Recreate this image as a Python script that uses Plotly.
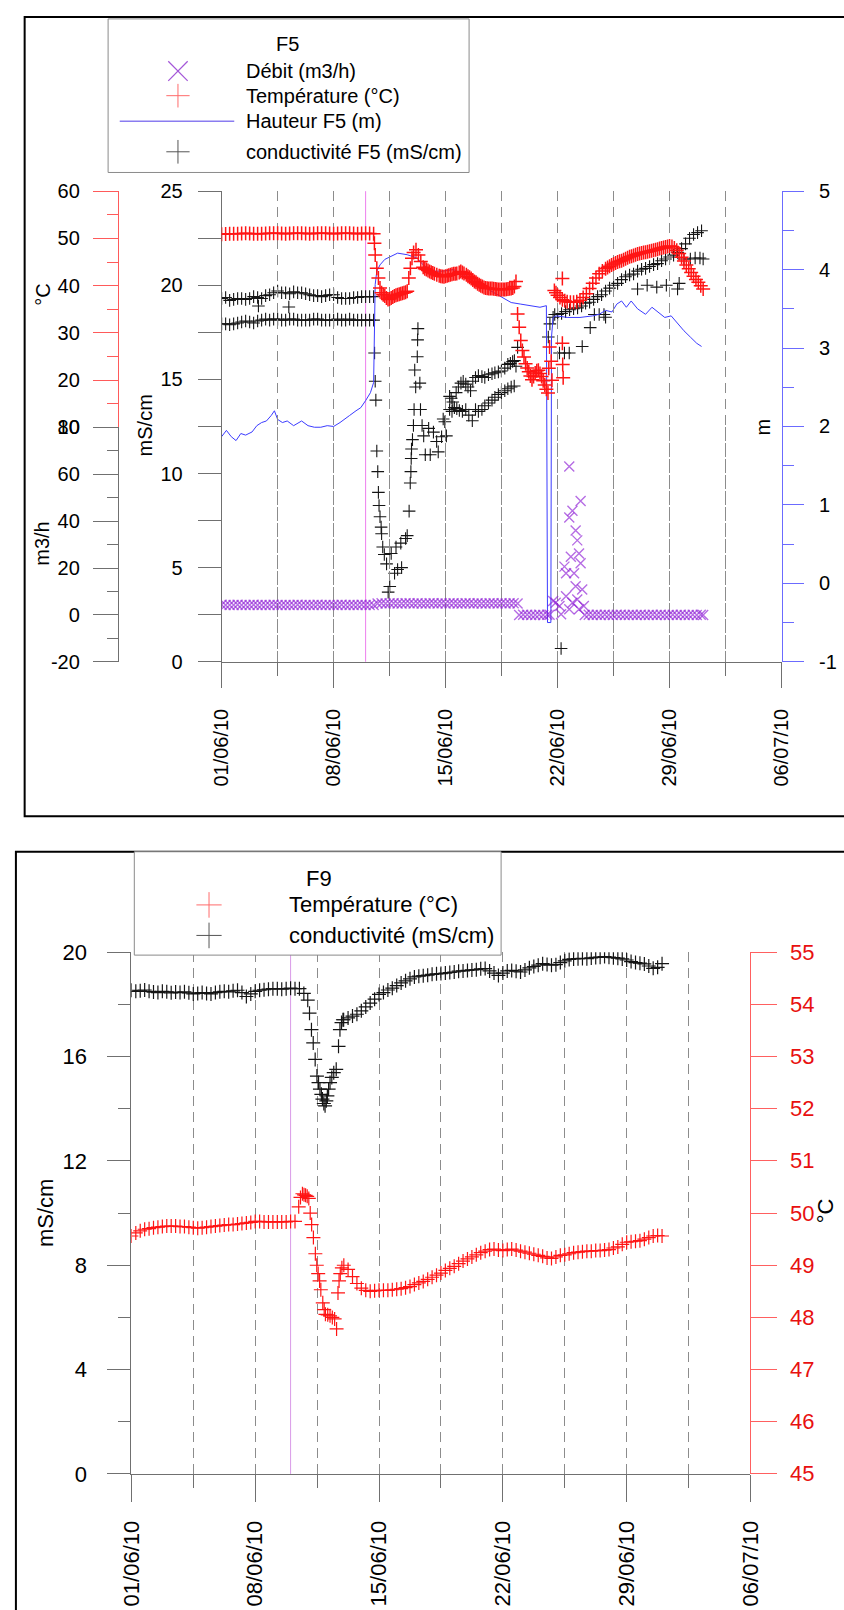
import pandas as pd
import plotly.graph_objects as go

W, H = 844, 1610
FONT = "Liberation Sans, Arial, sans-serif"
DAY_MS = 86400000
BASE = pd.Timestamp("2010-06-01")
X_START, X_END = "2010-06-01", "2010-07-06"
EVENT_DATE = "2010-06-10"

# ---------------- F5 data (t = days since 01/06/10) ----------------
f5_band_t = [0, 0.25, 0.5, 0.75, 1, 1.25, 1.5, 1.75, 2, 2.25, 2.5, 2.75, 3, 3.25, 3.5, 3.75, 4, 4.25, 4.5,
             4.75, 5, 5.25, 5.5, 5.75, 6, 6.25, 6.5, 6.75, 7, 7.25, 7.5, 7.75, 8, 8.25, 8.5, 8.75, 9, 9.25, 9.5]
f5_cond_hi = [19.3, 19.35, 19.2, 19.25, 19.3, 19.3, 19.25, 19.3, 19.4, 19.35, 19.3, 19.45, 19.5, 19.6, 19.7,
              19.6, 19.6, 19.55, 19.65, 19.6, 19.6, 19.55, 19.5, 19.45, 19.45, 19.4, 19.45, 19.5, 19.5, 19.35,
              19.3, 19.3, 19.3, 19.35, 19.35, 19.4, 19.4, 19.4, 19.4]
f5_cond_lo = [17.95, 17.95, 17.9, 17.95, 18.0, 18.05, 18.1, 18.05, 18.0, 18.1, 18.15, 18.2, 18.15, 18.2, 18.2,
              18.15, 18.15, 18.2, 18.2, 18.15, 18.15, 18.15, 18.15, 18.2, 18.2, 18.15, 18.15, 18.15, 18.15,
              18.2, 18.15, 18.15, 18.2, 18.15, 18.15, 18.15, 18.15, 18.15, 18.15]
f5_temp_flat = [50.9, 50.95, 51.0, 51.0, 51.0, 51.05, 51.1, 51.05, 51.0, 51.0, 51.0, 51.05, 51.1, 51.1, 51.1,
                51.05, 51.0, 51.05, 51.1, 51.1, 51.1, 51.05, 51.0, 51.05, 51.1, 51.1, 51.1, 51.05, 51.0,
                51.05, 51.1, 51.1, 51.1, 51.05, 51.0, 51.05, 51.1, 51.05, 51.0]
f5_debit_flat = [4.3, 4.2, 4.2, 4.25, 4.3, 4.2, 4.2, 4.25, 4.3, 4.2, 4.2, 4.2, 4.25, 4.3, 4.2, 4.2, 4.25, 4.2,
                 4.2, 4.3, 4.2, 4.2, 4.25, 4.2, 4.3, 4.2, 4.2, 4.25, 4.2, 4.2, 4.3, 4.2, 4.2, 4.25, 4.2, 4.3,
                 4.2, 4.2, 4.2]

f5_cond_scatter = [
    (2.3, 18.9), (4.2, 18.85),
    (9.56, 16.4), (9.6, 14.9), (9.64, 13.9), (9.7, 11.2), (9.76, 10.1), (9.8, 9.0), (9.84, 8.3),
    (9.9, 7.7), (9.97, 7.15), (10.0, 6.8), (10.07, 6.1), (10.17, 5.7), (10.31, 5.2), (10.41, 3.7),
    (10.51, 4.0), (10.6, 5.75), (10.81, 4.7), (10.9, 6.1), (11.0, 4.9), (11.2, 6.3), (11.25, 5.0),
    (11.5, 6.55), (11.6, 6.7), (11.72, 8.0), (11.79, 9.5), (11.83, 10.1), (11.85, 10.8), (11.87, 11.3),
    (11.93, 11.8), (11.99, 12.55), (12.03, 13.4), (12.07, 15.5), (12.13, 14.6), (12.23, 16.2),
    (12.25, 17.1), (12.27, 17.7), (12.39, 14.8), (12.43, 13.4), (12.53, 12.55), (12.63, 12.0),
    (12.73, 11.0), (12.94, 12.4), (13.04, 11.0), (13.24, 12.2), (13.44, 11.7), (13.54, 11.15),
    (13.75, 11.95), (13.85, 12.9), (13.95, 12.75), (14.05, 12.0),
    (14.25, 14.1), (14.35, 14.0), (14.45, 13.8), (14.66, 14.3), (14.8, 14.6), (14.96, 14.8), (15.1, 14.9),
    (15.26, 14.75), (15.4, 14.6), (15.56, 14.4), (15.7, 14.9), (15.87, 15.1), (16.05, 15.2), (16.27, 15.15),
    (16.45, 15.1), (16.68, 15.25), (16.9, 15.3), (17.08, 15.35), (17.3, 15.4), (17.49, 15.45),
    (17.7, 15.6), (17.89, 15.8), (18.05, 15.85), (18.19, 15.95), (18.3, 16.0), (18.4, 15.7),
    (14.25, 13.4), (14.4, 13.3), (14.55, 13.5), (14.7, 13.45), (14.86, 13.35), (15.05, 13.3),
    (15.26, 13.4), (15.45, 13.1), (15.67, 12.8), (15.87, 13.4), (16.05, 13.3), (16.27, 13.4),
    (16.45, 13.6), (16.68, 13.75), (16.9, 13.9), (17.08, 14.05), (17.3, 14.2), (17.49, 14.3),
    (17.7, 14.4), (17.89, 14.5), (18.1, 14.6), (18.29, 14.65),
    (18.5, 16.7), (20.42, 17.25), (20.52, 17.95), (20.72, 18.3), (20.82, 18.45), (21.22, 0.7),
    (21.12, 16.4), (21.43, 16.4), (21.73, 16.4), (22.54, 16.75), (23.04, 17.75), (23.3, 18.45),
    (23.6, 18.45), (23.9, 18.45), (24.0, 18.3), (26.0, 19.8), (26.6, 20.0), (27.2, 19.9), (27.8, 20.0),
    (28.5, 19.8), (28.6, 20.1), (28.9, 21.4), (29.3, 21.4), (29.6, 21.45), (29.9, 21.45), (30.1, 21.4),
]
f5_late_t = [21.0, 21.25, 21.5, 21.75, 22.0, 22.25, 22.5, 22.75, 23.0, 23.25, 23.5, 23.75, 24.0, 24.25, 24.5,
             24.75, 25.0, 25.25, 25.5, 25.75, 26.0, 26.25, 26.5, 26.75, 27.0, 27.25, 27.5, 27.75, 28.0, 28.25,
             28.5, 28.75, 29.0, 29.25, 29.5, 29.75, 30.0]
f5_cond_late = [18.45, 18.5, 18.6, 18.7, 18.75, 18.8, 18.9, 19.05, 19.1, 19.25, 19.4, 19.5, 19.7, 19.85, 20.0,
                20.1, 20.3, 20.45, 20.55, 20.6, 20.75, 20.85, 20.9, 21.0, 21.1, 21.15, 21.3, 21.4, 21.5, 21.6,
                21.75, 21.95, 22.2, 22.5, 22.7, 22.8, 22.9]

f5_temp_after = [
    (9.55, 49.0), (9.6, 46.5), (9.7, 43.7), (9.8, 41.6), (9.9, 39.5), (10.0, 38.5), (10.1, 38.1), (10.2, 37.8),
    (10.3, 37.4), (10.4, 37.1), (10.5, 37.2), (10.6, 37.4), (10.7, 37.6), (10.8, 37.8), (10.9, 38.0),
    (11.0, 38.1), (11.1, 38.2), (11.2, 38.3), (11.3, 38.4), (11.4, 38.5), (11.5, 38.6), (11.6, 38.8),
    (11.7, 41.6), (11.8, 43.7), (11.9, 45.8), (12.0, 47.0), (12.15, 47.6), (12.3, 46.5), (12.45, 45.1),
    (12.6, 43.9), (12.7, 43.6), (12.8, 43.4), (12.9, 43.2), (13.0, 43.0), (13.1, 42.85), (13.2, 42.7),
    (13.3, 42.5), (13.45, 42.3), (13.6, 42.1), (13.7, 42.0), (13.8, 41.95), (13.9, 41.9), (14.0, 42.0),
    (14.1, 42.1), (14.2, 42.2), (14.3, 42.3), (14.4, 42.4), (14.5, 42.5), (14.6, 42.55), (14.7, 42.6),
    (14.85, 42.8), (14.95, 43.0), (15.05, 42.8), (15.15, 42.6), (15.3, 42.3), (15.4, 42.0), (15.5, 41.8),
    (15.6, 41.5), (15.7, 41.2), (15.8, 40.9), (15.9, 40.7), (16.0, 40.4), (16.1, 40.2), (16.2, 40.0),
    (16.3, 39.8), (16.4, 39.6), (16.5, 39.5), (16.6, 39.45), (16.7, 39.4), (16.8, 39.4), (16.9, 39.4),
    (17.0, 39.35), (17.1, 39.3), (17.2, 39.25), (17.3, 39.2), (17.4, 39.2), (17.5, 39.2), (17.6, 39.2),
    (17.7, 39.2), (17.8, 39.25), (17.9, 39.3), (18.0, 39.35), (18.1, 39.4), (18.2, 39.5), (18.3, 39.8),
    (18.4, 40.9),
    (18.5, 34.0), (18.6, 31.2), (18.7, 28.4), (18.8, 26.3), (18.9, 24.9), (19.0, 23.5), (19.1, 22.6),
    (19.2, 21.8), (19.3, 20.9), (19.4, 20.1), (19.5, 20.8), (19.6, 21.5), (19.7, 22.0), (19.8, 22.1),
    (19.9, 21.4), (20.0, 20.8), (20.1, 19.9), (20.2, 19.0), (20.3, 18.1), (20.4, 17.3),
    (20.45, 22.5), (20.5, 27.0), (20.6, 24.0), (20.65, 20.0), (21.3, 27.8), (21.32, 23.3),
    (21.35, 20.5), (21.3, 41.5),
    (20.8, 39.0), (20.9, 38.5), (21.0, 38.0), (21.15, 37.5), (21.3, 37.0), (21.45, 36.8), (21.6, 36.6),
    (21.8, 36.5), (22.0, 36.5), (22.2, 36.6), (22.4, 36.9), (22.6, 37.5), (22.8, 38.3), (23.0, 39.4),
    (23.2, 40.5), (23.4, 41.6), (23.6, 42.5), (23.8, 43.1), (24.0, 43.6), (24.125, 43.85), (24.25, 44.1),
    (24.375, 44.35), (24.5, 44.6), (24.625, 44.8), (24.75, 45.0), (24.875, 45.15), (25.0, 45.3),
    (25.125, 45.5), (25.25, 45.7), (25.375, 45.9), (25.5, 46.1), (25.625, 46.25), (25.75, 46.4),
    (25.875, 46.55), (26.0, 46.7), (26.125, 46.8), (26.25, 46.9), (26.375, 47.0), (26.5, 47.1),
    (26.625, 47.2), (26.75, 47.3), (26.875, 47.4), (27.0, 47.5), (27.125, 47.6), (27.25, 47.7),
    (27.375, 47.85), (27.5, 48.0), (27.625, 48.1), (27.75, 48.2), (27.875, 48.3), (28.0, 48.4),
    (28.15, 48.3), (28.3, 48.0), (28.45, 47.5), (28.6, 46.8), (28.75, 46.0), (28.9, 45.2), (29.05, 44.4),
    (29.2, 43.6), (29.35, 42.8), (29.5, 42.0), (29.65, 41.3), (29.8, 40.7), (29.95, 40.0), (30.1, 39.3),
]

f5_height = [
    (0, 1.87), (0.3, 1.95), (0.6, 1.87), (0.9, 1.82), (1.2, 1.91), (1.5, 1.89), (1.9, 1.93), (2.2, 2.01),
    (2.5, 2.05), (2.8, 2.07), (3.1, 2.14), (3.3, 2.2), (3.5, 2.09), (3.8, 2.05), (4.1, 2.07), (4.5, 2.01),
    (5.0, 2.07), (5.4, 2.01), (5.8, 1.99), (6.2, 1.99), (6.6, 2.01), (7.0, 2.0), (7.4, 2.05), (7.7, 2.09),
    (8.0, 2.14), (8.4, 2.2), (8.7, 2.24), (9.0, 2.33), (9.3, 2.43), (9.5, 2.56), (9.56, 3.31), (9.6, 3.81),
    (9.7, 3.98), (9.9, 4.06), (10.2, 4.13), (10.6, 4.17), (11.0, 4.21), (11.6, 4.19), (12.2, 4.15),
    (12.6, 4.06), (13.2, 3.98), (13.8, 3.98), (14.5, 4.0), (15.1, 3.94), (15.7, 3.85), (16.3, 3.79),
    (16.9, 3.72), (17.5, 3.64), (18.1, 3.58), (18.7, 3.56), (19.3, 3.54), (19.9, 3.52), (20.3, 3.54),
    (20.37, -0.5), (20.58, -0.5), (20.62, 3.14), (20.72, 3.39), (20.92, 3.41), (21.6, 3.39), (22.4, 3.39),
    (23.2, 3.41), (23.6, 3.43), (24.0, 3.48), (24.4, 3.46), (24.7, 3.56), (25.0, 3.6), (25.3, 3.52),
    (25.6, 3.6), (26.0, 3.5), (26.5, 3.43), (26.9, 3.52), (27.3, 3.46), (27.7, 3.39), (28.1, 3.41),
    (28.5, 3.31), (28.9, 3.22), (29.3, 3.14), (29.7, 3.06), (30.0, 3.02),
]

f5_debit_mid_t = [9.75, 10, 10.25, 10.5, 10.75, 11, 11.25, 11.5, 11.75, 12, 12.25, 12.5, 12.75, 13, 13.25,
                  13.5, 13.75, 14, 14.25, 14.5, 14.75, 15, 15.25, 15.5, 15.75, 16, 16.25, 16.5, 16.75, 17,
                  17.25, 17.5, 17.75, 18, 18.25, 18.5]
f5_debit_mid = [4.9, 5.0, 4.9, 4.95, 5.0, 4.9, 4.9, 5.0, 4.95, 4.9, 5.0, 4.9, 4.9, 5.0, 4.95, 4.9, 5.0, 4.9,
                4.95, 5.0, 4.9, 4.9, 5.0, 4.95, 4.9, 5.0, 4.9, 4.9, 5.0, 4.95, 4.9, 5.0, 4.9, 4.95, 5.0, 4.9]
f5_debit_scatter = [
    (18.6, 0.0), (18.85, 0.05), (19.1, 0.1), (19.35, 0.0), (19.6, 0.0), (19.85, 0.05), (20.1, 0.0),
    (20.35, 0.1), (20.5, 0.1),
    (20.72, 5.9), (20.88, 5.2), (21.12, 3.8), (21.22, 0.3), (21.73, 63.3), (21.73, 41.6), (21.93, 44.4),
    (22.44, 48.6), (21.53, 17.8), (21.43, 20.6), (21.83, 24.8), (22.13, 36.0), (22.23, 31.8),
    (22.34, 26.2), (22.44, 22.0), (22.03, 17.8), (22.13, 12.2), (22.54, 10.8), (21.53, 8.0),
    (21.93, 5.2), (22.34, 2.4), (22.64, 3.8), (21.73, 2.4), (22.23, 6.6),
]
f5_debit_late_t = [22.7, 22.95, 23.2, 23.45, 23.7, 23.95, 24.2, 24.45, 24.7, 24.95, 25.2, 25.45, 25.7, 25.95,
                   26.2, 26.45, 26.7, 26.95, 27.2, 27.45, 27.7, 27.95, 28.2, 28.45, 28.7, 28.95, 29.2, 29.45,
                   29.7, 29.95, 30.1]
f5_debit_late = [0.0, 0.1, 0.0, 0.05, 0.0, 0.1, 0.0, 0.0, 0.05, 0.1, 0.0, 0.0, 0.05, 0.0, 0.1, 0.0, 0.0, 0.05,
                 0.0, 0.1, 0.0, 0.0, 0.05, 0.0, 0.1, 0.0, 0.0, 0.05, 0.0, 0.1, 0.0]

# ---------------- F9 data ----------------
f9_flat_t = [0, 0.25, 0.5, 0.75, 1, 1.25, 1.5, 1.75, 2, 2.25, 2.5, 2.75, 3, 3.25, 3.5, 3.75, 4, 4.25, 4.5,
             4.75, 5, 5.25, 5.5, 5.75, 6, 6.25, 6.5, 6.75, 7, 7.25, 7.5, 7.75, 8, 8.25, 8.5, 8.75, 9, 9.25]
f9_cond_flat = [18.54, 18.5, 18.52, 18.55, 18.5, 18.47, 18.45, 18.5, 18.48, 18.44, 18.47, 18.45, 18.48, 18.44,
                18.4, 18.42, 18.45, 18.42, 18.4, 18.45, 18.48, 18.5, 18.48, 18.52, 18.54, 18.45, 18.3, 18.4,
                18.5, 18.54, 18.56, 18.58, 18.6, 18.6, 18.58, 18.6, 18.62, 18.6]
f9_temp_flat = [49.56, 49.62, 49.66, 49.69, 49.7, 49.72, 49.73, 49.74, 49.75, 49.75, 49.75, 49.74, 49.74,
                49.73, 49.72, 49.71, 49.72, 49.73, 49.74, 49.75, 49.76, 49.77, 49.78, 49.78, 49.79, 49.8,
                49.81, 49.82, 49.84, 49.84, 49.83, 49.83, 49.83, 49.83, 49.83, 49.83, 49.84, 49.84]
f9_cond_event = [
    (9.5, 18.6), (9.75, 18.42), (9.97, 18.16), (10.07, 17.66), (10.18, 17.03), (10.28, 16.52), (10.39, 15.89),
    (10.49, 15.25), (10.58, 15.0), (10.66, 14.75), (10.74, 14.55), (10.8, 14.37), (10.88, 14.2), (10.95, 14.11),
    (11.02, 14.3), (11.08, 14.49), (11.15, 14.75), (11.23, 15.0), (11.33, 15.2), (11.44, 15.38), (11.58, 15.51),
    (11.71, 16.39), (11.79, 17.03), (11.88, 17.3), (11.96, 17.41),
]
f9_late_t = [12.0, 12.25, 12.5, 12.75, 13.0, 13.25, 13.5, 13.75, 14.0, 14.25, 14.5, 14.75, 15.0, 15.25, 15.5,
             15.75, 16.0, 16.25, 16.5, 16.75, 17.0, 17.25, 17.5, 17.75, 18.0, 18.25, 18.5, 18.75, 19.0, 19.25,
             19.5, 19.75, 20.0, 20.25, 20.5, 20.75, 21.0, 21.25, 21.5, 21.75, 22.0, 22.25, 22.5, 22.75, 23.0,
             23.25, 23.5, 23.75, 24.0, 24.25, 24.5, 24.75, 25.0, 25.25, 25.5, 25.75, 26.0, 26.25, 26.5, 26.75,
             27.0, 27.25, 27.5, 27.75, 28.0, 28.25, 28.5, 28.75, 29.0, 29.25, 29.5, 29.75, 30.0]
f9_cond_late = [17.41, 17.48, 17.55, 17.62, 17.75, 17.9, 18.05, 18.2, 18.38, 18.45, 18.55, 18.62, 18.72, 18.82,
                18.9, 18.98, 19.05, 19.08, 19.1, 19.12, 19.15, 19.17, 19.18, 19.2, 19.22, 19.24, 19.27, 19.28,
                19.3, 19.32, 19.33, 19.36, 19.37, 19.28, 19.2, 19.11, 19.2, 19.28, 19.3, 19.27, 19.24, 19.32,
                19.4, 19.45, 19.5, 19.56, 19.53, 19.5, 19.52, 19.6, 19.67, 19.72, 19.74, 19.75, 19.76, 19.75,
                19.78, 19.8, 19.81, 19.83, 19.81, 19.79, 19.77, 19.74, 19.7, 19.64, 19.6, 19.58, 19.55, 19.47,
                19.38, 19.42, 19.56]
f9_temp_event = [
    (9.46, 50.12), (9.56, 50.3), (9.67, 50.37), (9.76, 50.35), (9.85, 50.34), (9.94, 50.32), (10.03, 50.28),
    (10.11, 50.0), (10.19, 49.78), (10.29, 49.53), (10.4, 49.22), (10.48, 49.0), (10.56, 48.84), (10.64, 48.7),
    (10.71, 48.53), (10.82, 48.28), (10.9, 48.15), (10.97, 48.06), (11.1, 48.05), (11.23, 48.03),
    (11.36, 48.0), (11.49, 47.97), (11.6, 47.78), (11.68, 48.47), (11.74, 48.7), (11.81, 48.84),
    (11.9, 48.95), (12.01, 49.0),
]
f9_late2_t = [12.25, 12.5, 12.75, 13.0, 13.25, 13.5, 13.75, 14.0, 14.25, 14.5, 14.75, 15.0, 15.25, 15.5,
              15.75, 16.0, 16.25, 16.5, 16.75, 17.0, 17.25, 17.5, 17.75, 18.0, 18.25, 18.5, 18.75, 19.0, 19.25,
              19.5, 19.75, 20.0, 20.25, 20.5, 20.75, 21.0, 21.25, 21.5, 21.75, 22.0, 22.25, 22.5, 22.75, 23.0,
              23.25, 23.5, 23.75, 24.0, 24.25, 24.5, 24.75, 25.0, 25.25, 25.5, 25.75, 26.0, 26.25, 26.5,
              26.75, 27.0, 27.25, 27.5, 27.75, 28.0, 28.25, 28.5, 28.75, 29.0, 29.25, 29.5, 29.75, 30.0]
f9_temp_late = [48.92, 48.78, 48.65, 48.56, 48.52, 48.5, 48.51, 48.52, 48.52, 48.52, 48.53, 48.54, 48.55, 48.57,
                48.59, 48.63, 48.66, 48.69, 48.73, 48.77, 48.81, 48.85, 48.9, 48.94, 48.98, 49.03, 49.08,
                49.12, 49.16, 49.2, 49.24, 49.27, 49.3, 49.31, 49.29, 49.28, 49.3, 49.31, 49.29, 49.27, 49.25,
                49.23, 49.21, 49.19, 49.17, 49.14, 49.13, 49.16, 49.19, 49.2, 49.22, 49.24, 49.25, 49.26,
                49.27, 49.27, 49.28, 49.28, 49.29, 49.3, 49.33, 49.35, 49.4, 49.44, 49.45, 49.46, 49.47, 49.5,
                49.53, 49.56, 49.57, 49.56]

# tick labels drawn as text next to the right-hand axes
m_ticks = [-1, 0, 1, 2, 3, 4, 5]
m_labels = ["-1", "0", "1", "2", "3", "4", "5"]
f9_temp_ticks = [45, 46, 47, 48, 49, 50, 51, 52, 53, 54, 55]
flow_ticks = [-20, 0, 20, 40, 60, 80]
flow_labels = ["-20", "0", "20", "40", "60", "80"]


def fx(p):
    return p / W


def fy(p):
    return 1 - p / H


def to_dates(ts):
    return [BASE + pd.Timedelta(days=t) for t in ts]


def unzip(pairs):
    return [p[0] for p in pairs], [p[1] for p in pairs]


def cross(size, color, width):
    return dict(symbol="cross-thin-open", size=size, color=color, line=dict(width=width, color=color))


fig = go.Figure()

# ---- F5 conductivity (mS/cm) ----
cs_t, cs_v = unzip(f5_cond_scatter)
c_t = f5_band_t + f5_band_t + cs_t + f5_late_t
c_v = f5_cond_hi + f5_cond_lo + cs_v + f5_cond_late
fig.add_trace(go.Scatter(x=to_dates(c_t), y=c_v, mode="markers", xaxis="x", yaxis="y",
                         marker=cross(9, "#151515", 1.1), showlegend=False))

# ---- F5 height (m) ----
h_t, h_v = unzip(f5_height)
fig.add_trace(go.Scatter(x=to_dates(h_t), y=h_v, mode="lines", xaxis="x", yaxis="y4",
                         line=dict(color="#3b3bff", width=1), showlegend=False))

# ---- F5 temperature (°C) ----
ta_t, ta_v = unzip(f5_temp_after)
fig.add_trace(go.Scatter(x=to_dates(f5_band_t + ta_t), y=f5_temp_flat + ta_v, mode="markers",
                         xaxis="x", yaxis="y2", marker=cross(10, "#ff1414", 1.5), showlegend=False))

# ---- F5 flow (m3/h) ----
ds_t, ds_v = unzip(f5_debit_scatter)
fig.add_trace(go.Scatter(
    x=to_dates(f5_band_t + f5_debit_mid_t + ds_t + f5_debit_late_t),
    y=f5_debit_flat + f5_debit_mid + ds_v + f5_debit_late,
    mode="markers", xaxis="x", yaxis="y3",
    marker=dict(symbol="x-thin-open", size=10, color="#8f1fd6", opacity=0.65,
                line=dict(width=1.4, color="#8f1fd6")),
    showlegend=False))

# ---- F9 conductivity and temperature ----
ce_t, ce_v = unzip(f9_cond_event)
fig.add_trace(go.Scatter(x=to_dates(f9_flat_t + ce_t + f9_late_t), y=f9_cond_flat + ce_v + f9_cond_late,
                         mode="markers", xaxis="x2", yaxis="y5", marker=cross(10, "#151515", 1.2),
                         showlegend=False))
te_t, te_v = unzip(f9_temp_event)
fig.add_trace(go.Scatter(x=to_dates(f9_flat_t + te_t + f9_late2_t), y=f9_temp_flat + te_v + f9_temp_late,
                         mode="markers", xaxis="x2", yaxis="y6", marker=cross(10, "#ff1414", 1.2),
                         showlegend=False))

GRID = "#8c8c8c"
DASH = "10px,6px"
AX = "#707070"


def date_axis(domain, anchor, ticklen, fsize, standoff):
    return dict(
        type="date", domain=domain, anchor=anchor, range=[X_START, X_END],
        tick0=X_START, dtick=7 * DAY_MS, tickformat="%d/%m/%y", tickangle=-90,
        ticks="outside", ticklen=ticklen, tickcolor=AX, tickwidth=1,
        tickfont=dict(family=FONT, size=fsize, color="#000"), ticklabelstandoff=standoff,
        showline=True, linecolor=AX, linewidth=1, zeroline=False,
        showgrid=True, gridcolor=GRID, gridwidth=1, griddash=DASH,
        minor=dict(tick0=X_START, dtick=int(3.5 * DAY_MS), ticks="outside", ticklen=13,
                   tickcolor=AX, showgrid=True, gridcolor=GRID, griddash=DASH),
        fixedrange=True)


def val_axis(**kw):
    base = dict(ticks="outside", showline=True, linewidth=1, zeroline=False, showgrid=False,
                fixedrange=True)
    base.update(kw)
    return base


fig.update_layout(
    width=W, height=H, margin=dict(l=0, r=0, t=0, b=0), autosize=False,
    paper_bgcolor="white", plot_bgcolor="rgba(0,0,0,0)",
    font=dict(family=FONT, size=20, color="#000"),
    xaxis=date_axis([fx(215), fx(792)], "y", 25, 20, 13),
    yaxis=val_axis(domain=[fy(660), fy(182)], anchor="x", range=[0, 25], tick0=0, dtick=5,
                   ticklen=23, tickcolor=AX, linecolor=AX,
                   tickfont=dict(family=FONT, size=20, color="#000"), ticklabelstandoff=11,
                   minor=dict(dtick=2.5, tick0=0, ticks="outside", ticklen=23, tickcolor=AX)),
    yaxis2=val_axis(domain=[fy(422), fy(182)], anchor="free", position=fx(108), range=[10, 60],
                    tick0=0, dtick=10, ticklen=25, tickcolor="#ff5a5a", linecolor="#ff5a5a",
                    tickfont=dict(family=FONT, size=20, color="#000"), ticklabelstandoff=9,
                    minor=dict(dtick=5, tick0=0, ticks="outside", ticklen=11, tickcolor="#ff5a5a")),
    yaxis3=val_axis(domain=[fy(660), fy(422)], anchor="free", position=fx(108), range=[-20, 80],
                    tickmode="array", tickvals=flow_ticks, ticktext=flow_labels,
                    ticklen=25, tickcolor=AX, linecolor=AX,
                    tickfont=dict(family=FONT, size=20, color="#000"), ticklabelstandoff=9,
                    minor=dict(dtick=10, tick0=0, ticks="outside", ticklen=11, tickcolor=AX)),
    yaxis4=val_axis(overlaying="y", side="right", anchor="free", position=fx(792), range=[-1, 5],
                    tick0=0, dtick=1, ticklen=21, tickcolor="#6b6bff", linecolor="#6b6bff",
                    showticklabels=False,
                    minor=dict(dtick=0.5, tick0=0, ticks="outside", ticklen=11, tickcolor="#6b6bff")),
    xaxis2=date_axis([fx(122), fx(760)], "y5", 27, 22, 10),
    yaxis5=val_axis(domain=[fy(1485), fy(955)], anchor="x2", range=[0, 20], tick0=0, dtick=4,
                    ticklen=23, tickcolor=AX, linecolor=AX,
                    tickfont=dict(family=FONT, size=22, color="#000"), ticklabelstandoff=16,
                    minor=dict(dtick=2, tick0=0, ticks="outside", ticklen=12, tickcolor=AX)),
    yaxis6=val_axis(overlaying="y5", side="right", anchor="free", position=fx(760), range=[45, 55],
                    tick0=45, dtick=1, ticklen=26, tickcolor="#ff6060", linecolor="#ff6060",
                    showticklabels=False),
)

shapes = []
shapes.append(dict(type="line", xref="x", yref="y domain", x0=EVENT_DATE, x1=EVENT_DATE, y0=0, y1=1,
                   line=dict(color="#ee7eee", width=1), layer="below"))
shapes.append(dict(type="line", xref="x2", yref="y5 domain", x0=EVENT_DATE, x1=EVENT_DATE, y0=0, y1=1,
                   line=dict(color="#d99be8", width=1), layer="below"))
shapes.append(dict(type="rect", xref="paper", yref="paper", x0=fx(12), x1=fx(900), y0=fy(817), y1=fy(5),
                   line=dict(color="#000", width=2), layer="below"))
shapes.append(dict(type="rect", xref="paper", yref="paper", x0=fx(3), x1=fx(900), y0=fy(1700), y1=fy(853),
                   line=dict(color="#000", width=2), layer="below"))
shapes.append(dict(type="rect", xref="paper", yref="paper", x0=fx(98), x1=fx(470), y0=fy(163), y1=fy(7),
                   line=dict(color="#8a8a8a", width=1), fillcolor="white", layer="above"))
shapes.append(dict(type="rect", xref="paper", yref="paper", x0=fx(125), x1=fx(503), y0=fy(958), y1=fy(853),
                   line=dict(color="#8a8a8a", width=1), fillcolor="white", layer="above"))


def glyph_plus(cx, cy, r, color):
    return [dict(type="line", xref="paper", yref="paper", x0=fx(cx - r), x1=fx(cx + r), y0=fy(cy), y1=fy(cy),
                 line=dict(color=color, width=1), layer="above"),
            dict(type="line", xref="paper", yref="paper", x0=fx(cx), x1=fx(cx), y0=fy(cy - r), y1=fy(cy + r),
                 line=dict(color=color, width=1), layer="above")]


def glyph_x(cx, cy, r, color):
    return [dict(type="line", xref="paper", yref="paper", x0=fx(cx - r), x1=fx(cx + r), y0=fy(cy - r),
                 y1=fy(cy + r), line=dict(color=color, width=1.2), layer="above"),
            dict(type="line", xref="paper", yref="paper", x0=fx(cx - r), x1=fx(cx + r), y0=fy(cy + r),
                 y1=fy(cy - r), line=dict(color=color, width=1.2), layer="above")]


shapes += glyph_x(170, 60, 10, "#a456d8")
shapes += glyph_plus(170, 85, 12, "#ff6b6b")
shapes.append(dict(type="line", xref="paper", yref="paper", x0=fx(110), x1=fx(228), y0=fy(111), y1=fy(111),
                   line=dict(color="#8a7cf0", width=1.5), layer="above"))
shapes += glyph_plus(170, 142, 12, "#555")
shapes += glyph_plus(202, 907, 13, "#ff6b6b")
shapes += glyph_plus(202, 938, 13, "#555")
fig.update_layout(shapes=shapes)

ann = []


def text(x, y, s, size, anchor="left", angle=0, color="#000"):
    ann.append(dict(xref="paper", yref="paper", x=fx(x), y=fy(y), text=s, showarrow=False,
                    xanchor=anchor, yanchor="middle", textangle=angle,
                    font=dict(family=FONT, size=size, color=color)))


text(283, 32, "F5", 20, "center")
text(238, 60, "Débit (m3/h)", 20)
text(238, 85, "Température (°C)", 20)
text(238, 111, "Hauteur F5 (m)", 20)
text(238, 142, "conductivité F5 (mS/cm)", 20)
text(30, 287, "°C", 20, "center", -90)
text(30, 540, "m3/h", 20, "center", -90)
text(137, 420, "mS/cm", 20, "center", -90)
text(773, 422, "m", 20, "center", -90)
text(315, 880, "F9", 22, "center")
text(282, 907, "Température (°C)", 22)
text(282, 938, "conductivité (mS/cm)", 22)
text(33, 1220, "mS/cm", 22, "center", -90)
text(837, 1218, "°C", 22, "center", -90)

# right-hand tick labels, placed through their axes' scales
for v, s in zip(m_ticks, m_labels):
    ann.append(dict(xref="paper", yref="y4", x=fx(829), y=v, text=s, showarrow=False, xanchor="left",
                    yanchor="middle", font=dict(family=FONT, size=20, color="#000")))
for v in f9_temp_ticks:
    ann.append(dict(xref="paper", yref="y6", x=fx(799), y=v, text=str(v), showarrow=False, xanchor="left",
                    yanchor="middle", font=dict(family=FONT, size=22, color="#e81010")))
fig.update_layout(annotations=ann)

fig.write_html("out.html")
